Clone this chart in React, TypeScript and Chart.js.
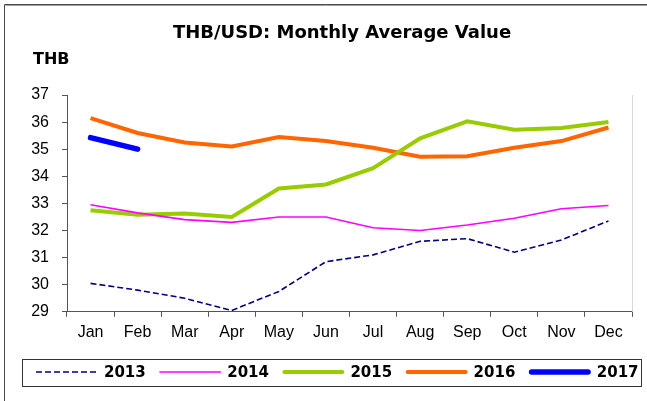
import React, { useEffect, useRef } from "react";
import { Chart, registerables } from "chart.js";

Chart.register(...registerables);

const TITLE = "THB/USD: Monthly Average Value";
const UNIT = "THB";
const months = ["Jan", "Feb", "Mar", "Apr", "May", "Jun", "Jul", "Aug", "Sep", "Oct", "Nov", "Dec"];
const yTicks = [29, 30, 31, 32, 33, 34, 35, 36, 37];

const s2013 = [30.05, 29.8, 29.5, 29.05, 29.75, 30.85, 31.1, 31.6, 31.7, 31.2, 31.65, 32.35];
const s2014 = [32.95, 32.65, 32.4, 32.3, 32.5, 32.5, 32.1, 32.0, 32.2, 32.45, 32.8, 32.92];
const s2015 = [32.75, 32.58, 32.63, 32.5, 33.55, 33.7, 34.3, 35.4, 36.03, 35.72, 35.78, 36.0];
const s2016 = [36.15, 35.6, 35.25, 35.1, 35.45, 35.3, 35.05, 34.72, 34.74, 35.05, 35.3, 35.8];
const s2017 = [35.43, 35.0];

const FONT = '"Liberation Sans", Arial, sans-serif';

const decorPlugin = {
  id: "decor",
  afterDraw(chart: any) {
    const ctx = chart.ctx as CanvasRenderingContext2D;
    const area = chart.chartArea;
    ctx.save();
    // outer frame (top + left)
    ctx.strokeStyle = "#4a4a4a";
    ctx.lineWidth = 1;
    ctx.beginPath();
    ctx.moveTo(4.5, 401);
    ctx.lineTo(4.5, 4.5);
    ctx.lineTo(647, 4.5);
    ctx.stroke();
    ctx.strokeStyle = "#a0a0a0";
    ctx.beginPath();
    ctx.moveTo(5.5, 5.5);
    ctx.lineTo(647, 5.5);
    ctx.stroke();
    // right border of plot
    ctx.strokeStyle = "#d8d8d8";
    ctx.beginPath();
    ctx.moveTo(Math.round(area.right) + 0.5, area.top);
    ctx.lineTo(Math.round(area.right) + 0.5, area.bottom);
    ctx.stroke();
    // title
    ctx.fillStyle = "#000";
    ctx.textAlign = "center";
    ctx.textBaseline = "middle";
    ctx.font = 'bold 18px "DejaVu Sans", sans-serif';
    ctx.fillText(TITLE, 342, 33);
    // unit
    ctx.textAlign = "left";
    ctx.font = 'bold 16px "DejaVu Sans", sans-serif';
    ctx.fillText(UNIT, 33, 60);
    // legend box
    ctx.strokeStyle = "#333";
    ctx.lineWidth = 1;
    ctx.strokeRect(22.5, 359.5, 619, 27);
    const ds = chart.data.datasets;
    const step = 123.2;
    const y = 372;
    ds.forEach((d: any, i: number) => {
      const x0 = 36 + i * step;
      const round = !(d.borderDash && d.borderDash.length);
      ctx.save();
      ctx.strokeStyle = d.borderColor;
      ctx.lineWidth = d.borderWidth;
      ctx.lineCap = round ? "round" : "butt";
      ctx.setLineDash(d.borderDash || []);
      ctx.beginPath();
      ctx.moveTo(x0 + (round ? d.borderWidth / 2 : 0), y);
      ctx.lineTo(x0 + 62 - (round ? d.borderWidth / 2 : 0), y);
      ctx.stroke();
      ctx.restore();
      ctx.fillStyle = "#000";
      ctx.textAlign = "left";
      ctx.textBaseline = "middle";
      ctx.font = 'bold 15px "DejaVu Sans", sans-serif';
      ctx.fillText(d.label, x0 + 68, y + 1);
    });
    ctx.restore();
  },
};

export default function App() {
  const ref = useRef<HTMLCanvasElement | null>(null);
  useEffect(() => {
    if (!ref.current) return;
    const chart = new Chart(ref.current, {
      type: "line",
      data: {
        labels: months,
        datasets: [
          { label: "2013", data: s2013, borderColor: "#000080", borderWidth: 1.6, borderDash: [6, 3], pointRadius: 0, tension: 0 },
          { label: "2014", data: s2014, borderColor: "#FF00FF", borderWidth: 1.6, pointRadius: 0, tension: 0 },
          { label: "2015", data: s2015, borderColor: "#99CC00", borderWidth: 4, pointRadius: 0, tension: 0 },
          { label: "2016", data: s2016, borderColor: "#FF6600", borderWidth: 4, pointRadius: 0, tension: 0 },
          { label: "2017", data: s2017, borderColor: "#0000FF", borderWidth: 5.5, pointRadius: 0, tension: 0, borderCapStyle: "round" },
        ],
      },
      options: {
        responsive: false,
        animation: false,
        events: [],
        layout: { padding: { top: 95, left: 0, right: 15, bottom: 53 } },
        plugins: { legend: { display: false }, title: { display: false }, tooltip: { enabled: false } },
        scales: {
          x: {
            type: "category",
            offset: true,
            border: { color: "#555", width: 1 },
            grid: { drawOnChartArea: false, drawTicks: true, tickLength: 5, color: "#555", offset: true },
            ticks: { color: "#000", font: { family: FONT, size: 16 }, padding: 6, maxRotation: 0, autoSkip: false },
          },
          y: {
            min: 29,
            max: 37,
            afterBuildTicks: (scale: any) => {
              scale.ticks = yTicks.map((v) => ({ value: v }));
            },
            afterFit: (scale: any) => {
              scale.width = 67;
            },
            border: { color: "#555", width: 1 },
            grid: { drawOnChartArea: false, drawTicks: true, tickLength: 5, color: "#555" },
            ticks: { color: "#000", font: { family: FONT, size: 16 }, padding: 13 },
          },
        },
      },
      plugins: [decorPlugin],
    });
    return () => chart.destroy();
  }, []);
  return (
    <div style={{ position: "absolute", left: 0, top: 0, width: 647, height: 401, background: "#fff" }}>
      <canvas ref={ref} width={647} height={401} />
    </div>
  );
}
